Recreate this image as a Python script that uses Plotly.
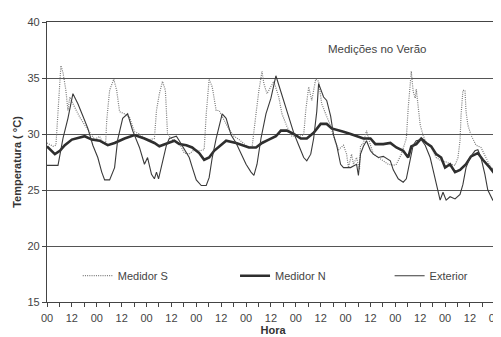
import plotly.graph_objects as go

# ---- data (hours from start, temperature in °C) ----
hours_s = [0, 2.9, 4.3, 5.3, 6.2, 6.7, 7.7, 9.1, 10.1, 11, 12.5, 15.8, 18.2, 20.6, 23, 25.4, 26.9, 28.3,
           28.8, 30.2, 32.2, 33.6, 35, 37.4, 39.8, 42.2, 44.6, 47, 49.4, 51.8, 52.8, 54.2, 55.7, 57.1,
           58.1, 59, 60.5, 63.8, 66.2, 68.6, 71, 73.4, 75.8, 76.8, 78.2, 79.7, 81.6, 83, 85.4, 87.8,
           90.2, 92.6, 96.5, 98.9, 100.8, 102.2, 103.7, 104.6, 106.1, 108, 109.4, 111.8, 113.3, 115.7,
           118.1, 121.4, 123.8, 124.8, 126.2, 127.7, 129.6, 131, 132.5, 134.4, 136.8, 139.2, 140.6, 143,
           144.5, 145.4, 146.9, 147.8, 149.3, 150.7, 151.2, 152.6, 154.1, 156, 157.4, 159.8, 162.2,
           164.6, 167, 168.5, 170.9, 173.3, 174.2, 175.2, 175.7, 176.6, 177.6, 178.1, 179, 180, 181.4,
           182.9, 185.3, 187.7, 190.1, 192.5, 194.9, 196.8, 198.2, 199.2, 199.7, 200.6, 201.6, 202.1,
           203, 204.5, 206.9, 209.3, 211.7, 214.1, 216.5]
temp_s = [29.2, 28.9, 29.0, 32.0, 35.0, 36.1, 35.5, 33.9, 32.1, 33.3, 32.7, 31.5, 30.8, 30.1, 29.5, 29.8,
          29.2, 29.2, 31.2, 33.9, 34.9, 33.9, 32.0, 31.8, 31.5, 30.2, 30.0, 29.6, 29.5, 29.6, 32.1, 33.6,
          34.7, 33.9, 30.1, 29.8, 29.5, 29.2, 28.3, 28.2, 28.6, 28.5, 28.6, 31.8, 34.9, 34.2, 32.1, 32.1,
          31.2, 30.4, 29.8, 29.5, 28.9, 28.8, 31.8, 33.9, 35.6, 34.5, 33.6, 34.2, 34.7, 33.3, 31.8, 30.7,
          29.8, 29.8, 29.9, 32.1, 34.2, 33.0, 34.9, 34.7, 32.7, 31.8, 30.7, 29.2, 28.6, 29.0, 28.2, 27.0,
          28.2, 27.3, 27.9, 26.8, 28.9, 29.2, 30.3, 29.0, 28.2, 27.9, 27.6, 27.3, 27.2, 27.3, 28.2, 29.6,
          32.3, 34.3, 35.6, 33.8, 33.2, 34.0, 32.5, 30.8, 29.9, 29.2, 28.8, 27.9, 27.6, 27.5, 27.3, 27.2,
          27.9, 29.4, 31.7, 33.9, 33.9, 32.0, 30.8, 29.9, 29.0, 28.8, 27.9, 27.0, 26.8]

hours_n = [0, 3.8, 6.2, 8.6, 12, 18.2, 21.6, 25.4, 29.3, 32.6, 37.4, 42.2, 47, 51.8, 54.2, 59, 61.4,
           63.8, 67.2, 70, 73.4, 75.8, 78.2, 80.6, 83, 86.4, 91.2, 94, 97.4, 100.8, 103.7, 107, 110.4,
           112.8, 115.7, 119, 122.4, 125.3, 128.6, 132, 134.9, 137.3, 139.7, 143, 146.4, 149.3, 152.6,
           156, 158.4, 162.2, 165.6, 168.5, 171.8, 174.2, 175.7, 178.1, 180.5, 182.9, 185.3, 187.7,
           190.1, 192, 194.4, 196.8, 199.2, 202.1, 204.5, 207.8, 210.2, 213.6, 216.5]
temp_n = [28.9, 28.2, 28.5, 29.0, 29.5, 29.8, 29.5, 29.4, 29.0, 29.2, 29.6, 29.9, 29.6, 29.2, 28.9, 29.2,
          29.4, 29.1, 29.0, 28.8, 28.3, 27.7, 27.9, 28.5, 28.9, 29.4, 29.2, 29.0, 28.8, 28.8, 29.2, 29.5,
          29.8, 30.3, 30.3, 30.0, 29.6, 29.6, 30.1, 30.9, 30.9, 30.5, 30.4, 30.2, 30.0, 29.8, 29.6, 29.6,
          29.1, 29.1, 29.2, 28.8, 28.5, 27.9, 28.9, 29.1, 29.6, 29.2, 28.9, 28.2, 27.9, 27.0, 27.3, 26.6,
          26.8, 27.3, 28.0, 28.3, 27.7, 27.0, 26.3]

hours_ext = [0, 5.3, 7.7, 10.1, 12.5, 14.9, 17.3, 19.7, 22.1, 24.5, 26.4, 27.8, 30.2, 32.6, 34.1, 36.5,
             38.9, 41.3, 44.6, 47, 48.5, 50.4, 51.8, 52.8, 53.8, 55.7, 57.6, 59, 62.4, 63.8, 66.2, 68.6,
             70.1, 72, 74.4, 76.8, 78.2, 79.7, 81.6, 83, 84.5, 86.4, 88.8, 91.2, 93.6, 96, 98.4, 99.8,
             101.3, 103.2, 105.6, 108, 110.4, 112.8, 115.2, 117.6, 119, 121.4, 123.8, 125.3, 127.2,
             128.6, 130.1, 131, 133.4, 134.9, 136.8, 138.2, 139.7, 141.6, 143, 146.4, 149.3, 150.2,
             151.2, 152.6, 154.1, 156, 157.4, 159.8, 162.2, 165.6, 167, 169.4, 171.8, 173.3, 175.2,
             176.6, 178.1, 180.5, 182.4, 184.8, 186.2, 187.7, 189.6, 191, 192.5, 194.4, 196.8, 199.2,
             200.6, 202.1, 204, 206.4, 207.8, 209.3, 211.2, 212.6, 215, 216.5]
temp_ext = [27.2, 27.2, 29.6, 31.4, 33.6, 32.7, 31.6, 30.5, 29.0, 27.9, 26.6, 25.9, 25.9, 27.0, 29.5,
            31.4, 31.8, 30.3, 28.8, 27.3, 27.9, 26.4, 26.0, 26.6, 26.0, 27.6, 29.0, 29.6, 29.8, 29.4,
            28.6, 27.9, 27.0, 25.9, 25.4, 25.4, 26.1, 27.9, 29.6, 30.8, 31.8, 31.4, 29.9, 29.2, 28.2,
            27.3, 26.6, 26.3, 27.3, 29.6, 31.8, 33.2, 35.2, 33.8, 32.3, 31.1, 30.1, 29.0, 27.9, 27.6,
            28.2, 29.6, 32.0, 34.5, 33.3, 33.0, 31.6, 29.9, 29.0, 27.3, 27.0, 27.0, 27.3, 26.3, 28.2,
            28.9, 29.4, 28.5, 28.2, 27.9, 28.0, 27.6, 26.8, 26.0, 25.7, 26.0, 27.9, 29.0, 29.4, 29.5,
            29.0, 27.9, 26.8, 25.5, 24.1, 24.8, 24.1, 24.4, 24.2, 24.6, 25.5, 27.0, 27.9, 28.5, 28.6,
            27.9, 26.4, 25.0, 24.1, 23.9]

tick_hours = list(range(0, 217, 12))
tick_labels = ["00" if h % 24 == 0 else "12" for h in tick_hours]

FONT = "Liberation Sans, Arial, sans-serif"
LEG_FONT = dict(family=FONT, size=11, color="#444")

fig = go.Figure()
fig.add_trace(go.Scatter(x=hours_s, y=temp_s, mode="lines", name="Medidor S", legend="legend",
                         line=dict(color="#7a7a7a", width=1.2, dash="1px,1.2px")))
fig.add_trace(go.Scatter(x=hours_n, y=temp_n, mode="lines", name="Medidor N", legend="legend2",
                         line=dict(color="#2e2e2e", width=2.6)))
fig.add_trace(go.Scatter(x=hours_ext, y=temp_ext, mode="lines", name="Exterior", legend="legend3",
                         line=dict(color="#3a3a3a", width=1.1)))

def leg(x):
    return dict(x=x, y=0.094, xanchor="left", yanchor="middle", orientation="h",
                bgcolor="rgba(0,0,0,0)", font=LEG_FONT, borderwidth=0)

fig.update_layout(
    width=501, height=337,
    margin=dict(l=39, r=8, t=8, b=43),
    paper_bgcolor="white", plot_bgcolor="white",
    font=dict(family=FONT, size=11, color="#444"),
    showlegend=True,
    legend=leg(0.068), legend2=leg(0.416), legend3=leg(0.758),
    annotations=[dict(text="Medições no Verão", x=0.729, y=0.905, xref="paper", yref="paper",
                      xanchor="center", yanchor="middle", showarrow=False,
                      font=dict(family=FONT, size=11.5, color="#444"))],
)
fig.update_xaxes(range=[0, 218], tickvals=tick_hours, ticktext=tick_labels,
                 ticks="outside", ticklen=4, tickcolor="#444", showline=True, linecolor="#444",
                 linewidth=1.2, mirror=True, showgrid=False, zeroline=False,
                 ticklabelstandoff=2,
                 minor=dict(dtick=6, tick0=0, ticks="outside", ticklen=4, tickcolor="#444"),
                 title=dict(text="<b>Hora</b>", standoff=0, font=dict(family=FONT, size=11, color="#333")))
fig.update_yaxes(range=[15, 40], dtick=5, ticks="outside", ticklen=4, tickcolor="#444",
                 showline=True, linecolor="#444", linewidth=1.2,
                 showgrid=True, gridcolor="#555", gridwidth=1.3, zeroline=False,
                 title=dict(text="<b>Temperatura ( °C)</b>", standoff=3,
                            font=dict(family=FONT, size=11, color="#333")))

fig.write_html("out.html")
